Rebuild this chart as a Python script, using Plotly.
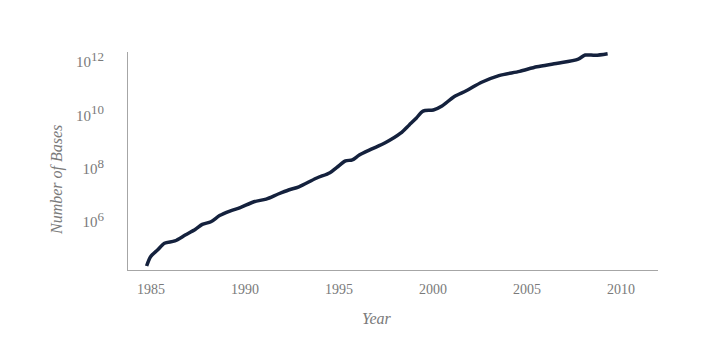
import plotly.graph_objects as go

years = [1984.77, 1984.98, 1985.35, 1985.72, 1986.27, 1986.82, 1987.37, 1987.73, 1988.19, 1988.65,
         1989.20, 1989.75, 1990.48, 1991.13, 1991.77, 1992.32, 1992.87, 1993.79, 1994.52, 1994.89,
         1995.35, 1995.71, 1996.08, 1996.72, 1997.46, 1998.28, 1998.74, 1999.11, 1999.47, 2000.02,
         2000.48, 2001.12, 2001.77, 2002.59, 2003.51, 2004.61, 2005.53, 2006.63, 2007.73, 2008.10,
         2008.64, 2009.29]
log_bases = [4.35, 4.70, 4.95, 5.20, 5.29, 5.51, 5.73, 5.91, 6.01, 6.24,
             6.41, 6.54, 6.76, 6.86, 7.05, 7.20, 7.32, 7.64, 7.85, 8.05,
             8.29, 8.33, 8.51, 8.73, 8.97, 9.33, 9.64, 9.89, 10.16, 10.20,
             10.35, 10.70, 10.92, 11.24, 11.49, 11.65, 11.82, 11.95, 12.11, 12.26,
             12.25, 12.31]
bases = [10 ** v for v in log_bases]

x_ticks = [1985, 1990, 1995, 2000, 2005, 2010]
y_ticks = [1e6, 1e8, 1e10, 1e12]
y_exponents = ["6", "8", "10", "12"]
y_tick_text = ["10<sup><span style='font-size:13px'>%s</span></sup>" % e for e in y_exponents]

FONT = "Liberation Serif, serif"
GRAY = "#7a7a7a"

fig = go.Figure()
fig.add_trace(go.Scatter(
    x=years, y=bases, mode="lines",
    line=dict(color="#14213d", width=3.5, shape="spline", smoothing=0.8),
    hoverinfo="skip", showlegend=False,
))

fig.update_layout(
    width=714, height=350,
    margin=dict(l=128, r=56, t=52, b=80),
    paper_bgcolor="white", plot_bgcolor="white",
    font=dict(family=FONT, color=GRAY, size=14),
    xaxis=dict(
        range=[1983.78, 2011.97], tickvals=x_ticks,
        showgrid=False, zeroline=False,
        showline=True, linecolor="#a6a6a6", linewidth=1,
        ticks="outside", ticklen=6, tickcolor="rgba(0,0,0,0)",
        tickfont=dict(family=FONT, color=GRAY, size=14),
    ),
    yaxis=dict(
        type="log", range=[4.20, 12.375],
        tickvals=y_ticks, ticktext=y_tick_text,
        showgrid=False, zeroline=False,
        showline=True, linecolor="#a6a6a6", linewidth=1,
        ticks="outside", ticklen=20, tickcolor="rgba(0,0,0,0)",
        tickfont=dict(family=FONT, color=GRAY, size=15),
    ),
    annotations=[
        dict(text="<i>Year</i>", xref="paper", yref="paper",
             x=(377 - 128) / 530, y=-(318 - 270) / 218,
             xanchor="center", yanchor="middle", showarrow=False,
             font=dict(family=FONT, color=GRAY, size=16)),
        dict(text="<i>Number of Bases</i>", xref="paper", yref="paper",
             x=-(128 - 57) / 530, y=(270 - 180) / 218, textangle=-90,
             xanchor="center", yanchor="middle", showarrow=False,
             font=dict(family=FONT, color=GRAY, size=16)),
    ],
)

fig.write_html("out.html")
